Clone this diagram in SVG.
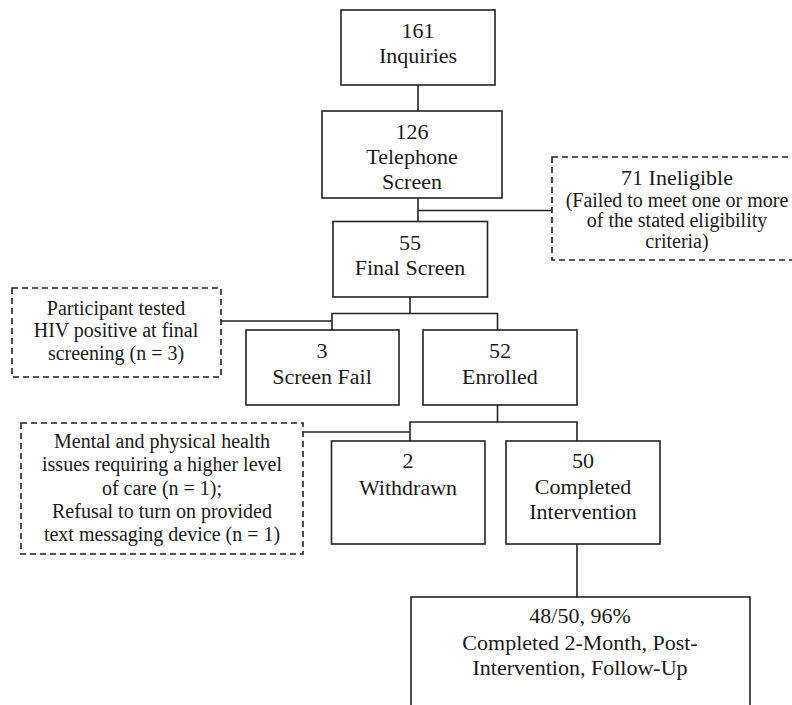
<svg xmlns="http://www.w3.org/2000/svg" width="792" height="705" viewBox="0 0 792 705">
<style>
.box{fill:#fff;stroke:#222;stroke-width:1.6}
.dash{fill:#fff;stroke:#222;stroke-width:1.6;stroke-dasharray:6,4}
.t{font-size:22px;fill:#1a1a1a;text-anchor:middle}
.s{font-size:20px;fill:#1a1a1a;text-anchor:middle}
.c{fill:none;stroke:#222;stroke-width:1.6}
</style>
<rect width="792" height="705" fill="#fff"/>
<g id="connectors">
<polyline class="c" points="418,85 418,111"/>
<polyline class="c" points="418,198 418,221"/>
<polyline class="c" points="418,210.5 552,210.5"/>
<polyline class="c" points="410,297 410,313.5"/>
<polyline class="c" points="332,330 332,313.5 497.5,313.5 497.5,330"/>
<polyline class="c" points="221,321 332,321"/>
<polyline class="c" points="497.5,405 497.5,422"/>
<polyline class="c" points="410,441 410,422 577,422 577,441"/>
<polyline class="c" points="303,432 410,432"/>
<polyline class="c" points="577,544 577,597"/>
</g>
<g font-family="Liberation Serif, DejaVu Serif, serif">
<g id="n161">
<rect class="box" x="341" y="10" width="154" height="75"/>
<text class="t" x="418" y="38">161</text>
<text class="t" x="418" y="63">Inquiries</text>
</g>
<g id="n126">
<rect class="box" x="322" y="111" width="180" height="87"/>
<text class="t" x="412" y="139">126</text>
<text class="t" x="412" y="164">Telephone</text>
<text class="t" x="412" y="189">Screen</text>
</g>
<g id="ineligible">
<rect class="dash" x="552" y="157" width="250" height="103"/>
<text class="t" x="677" y="185">71 Ineligible</text>
<text class="s" x="677" y="207">(Failed to meet one or more</text>
<text class="s" x="677" y="227">of the stated eligibility</text>
<text class="s" x="677" y="248">criteria)</text>
</g>
<g id="n55">
<rect class="box" x="333" y="221.5" width="154.5" height="75.5"/>
<text class="t" x="410" y="250">55</text>
<text class="t" x="410" y="275">Final Screen</text>
</g>
<g id="hiv">
<rect class="dash" x="12" y="288" width="209" height="89"/>
<text class="s" x="116" y="315">Participant tested</text>
<text class="s" x="116" y="337">HIV positive at final</text>
<text class="s" x="116" y="360">screening (n = 3)</text>
</g>
<g id="screenfail">
<rect class="box" x="246" y="330" width="153" height="75"/>
<text class="t" x="322" y="358">3</text>
<text class="t" x="322" y="384">Screen Fail</text>
</g>
<g id="enrolled">
<rect class="box" x="423" y="330" width="154" height="75"/>
<text class="t" x="500" y="358">52</text>
<text class="t" x="500" y="384">Enrolled</text>
</g>
<g id="reasons">
<rect class="dash" x="21" y="423" width="282" height="131"/>
<text class="s" x="162" y="448">Mental and physical health</text>
<text class="s" x="162" y="471">issues requiring a higher level</text>
<text class="s" x="162" y="495">of care (n = 1);</text>
<text class="s" x="162" y="518">Refusal to turn on provided</text>
<text class="s" x="162" y="541">text messaging device (n = 1)</text>
</g>
<g id="withdrawn">
<rect class="box" x="331.5" y="441" width="153.5" height="103"/>
<text class="t" x="408" y="468">2</text>
<text class="t" x="408" y="495">Withdrawn</text>
</g>
<g id="completed">
<rect class="box" x="506" y="441" width="154" height="103"/>
<text class="t" x="583" y="468">50</text>
<text class="t" x="583" y="494">Completed</text>
<text class="t" x="583" y="519">Intervention</text>
</g>
<g id="followup">
<rect class="box" x="411" y="597" width="339" height="110"/>
<text class="t" x="580" y="623">48/50, 96%</text>
<text class="t" x="580" y="650">Completed 2-Month, Post-</text>
<text class="t" x="580" y="675">Intervention, Follow-Up</text>
</g>
</g>
</svg>
